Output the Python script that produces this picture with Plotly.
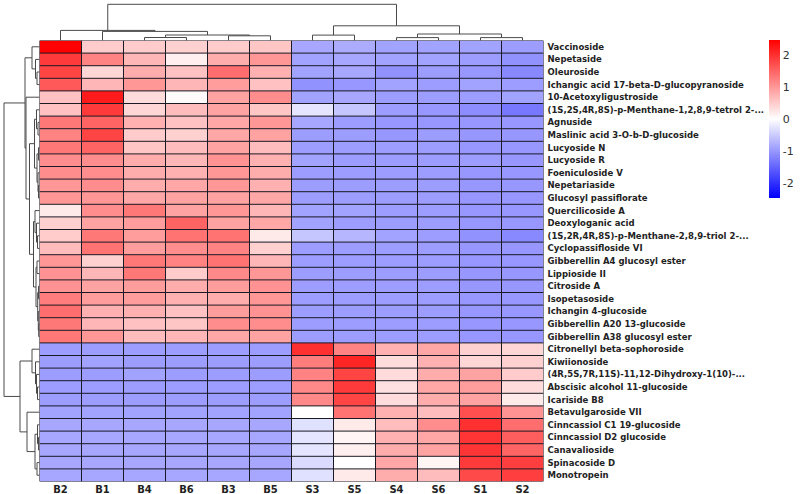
import plotly.graph_objects as go

samples = ["B2", "B1", "B4", "B6", "B3", "B5", "S3", "S5", "S4", "S6", "S1", "S2"]

compounds = [
    "Vaccinoside", "Nepetaside", "Oleuroside", "Ichangic acid 17-beta-D-glucopyranoside",
    "10-Acetoxyligustroside", "(1S,2S,4R,8S)-p-Menthane-1,2,8,9-tetrol 2-...", "Agnuside",
    "Maslinic acid 3-O-b-D-glucoside", "Lucyoside N", "Lucyoside R", "Foeniculoside V",
    "Nepetariaside", "Glucosyl passiflorate", "Quercilicoside A", "Deoxyloganic acid",
    "(1S,2R,4R,8S)-p-Menthane-2,8,9-triol 2-...", "Cyclopassifloside VI",
    "Gibberellin A4 glucosyl ester", "Lippioside II", "Citroside A", "Isopetasoside",
    "Ichangin 4-glucoside", "Gibberellin A20 13-glucoside", "Gibberellin A38 glucosyl ester",
    "Citronellyl beta-sophoroside", "Kiwiionoside", "(4R,5S,7R,11S)-11,12-Dihydroxy-1(10)-...",
    "Abscisic alcohol 11-glucoside", "Icariside B8", "Betavulgaroside VII",
    "Cinncassiol C1 19-glucoside", "Cinncassiol D2 glucoside", "Canavalioside",
    "Spinacoside D", "Monotropein",
]

# row-scaled values, one list per sample (rows in display order)
B2 = [2.45, 1.9, 1.8, 1.6, 0.6, 0.6, 1.3, 1.2, 1.3, 1.1, 1.1, 1.0, 1.0, 0.2, 0.45, 0.5, 0.65,
      1.0, 1.05, 1.05, 1.25, 1.4, 1.3, 1.3,
      -0.95, -0.95, -0.95, -0.95, -0.95, -0.9, -0.85, -0.85, -0.85, -0.85, -0.85]
B1 = [0.5, 1.2, 0.4, 0.7, 2.2, 1.9, 1.5, 1.8, 1.5, 1.1, 1.1, 1.1, 1.0, 1.1, 0.9, 1.3, 1.35,
      0.45, 0.7, 0.9, 0.95, 0.75, 0.7, 1.0,
      -0.95, -0.9, -0.95, -0.95, -0.95, -0.9, -0.85, -0.85, -0.85, -0.85, -0.85]
B4 = [0.5, 0.7, 0.8, 1.0, 0.35, 0.4, 0.75, 0.5, 0.55, 0.8, 0.8, 0.8, 0.85, 1.3, 0.95, 0.95, 0.95,
      1.3, 1.3, 0.95, 0.95, 0.75, 0.6, 0.65,
      -0.95, -0.95, -0.9, -0.95, -0.95, -0.9, -0.85, -0.85, -0.85, -0.85, -0.85]
B6 = [0.45, 0.15, 0.6, 0.7, 0.05, 0.65, 0.6, 0.45, 0.65, 0.7, 0.75, 0.85, 0.9, 0.9, 1.5, 1.35, 1.1,
      1.2, 0.5, 0.8, 0.75, 0.6, 0.55, 0.7,
      -0.95, -0.95, -0.95, -0.95, -0.95, -0.9, -0.85, -0.85, -0.85, -0.85, -0.85]
B3 = [0.5, 0.8, 1.4, 0.95, 0.9, 0.9, 0.85, 0.85, 0.9, 1.05, 1.0, 1.0, 0.9, 1.0, 0.9, 1.35, 1.2,
      1.35, 1.15, 0.95, 0.8, 0.95, 1.1, 0.85,
      -0.95, -0.95, -0.95, -0.95, -0.95, -0.9, -0.85, -0.85, -0.85, -0.85, -0.85]
B5 = [0.55, 1.0, 0.75, 0.6, 1.1, 0.55, 1.0, 0.9, 0.65, 0.75, 0.8, 0.75, 0.85, 0.7, 0.85, 0.2, 0.45,
      0.7, 1.0, 1.05, 1.0, 1.05, 1.1, 0.9,
      -0.95, -0.95, -0.95, -0.95, -0.95, -0.9, -0.85, -0.85, -0.85, -0.85, -0.85]
S3 = [-0.85, -0.9, -0.9, -1.05, -0.9, -0.25, -0.85, -0.95, -0.95, -0.9, -0.95, -0.95, -0.95, -0.9,
      -0.9, -0.55, -0.95, -0.95, -0.95, -0.95, -0.95, -0.95, -0.95, -0.95,
      2.0, 1.25, 1.2, 1.15, 1.15, 0.0, -0.3, -0.25, -0.25, -0.35, -0.3]
S5 = [-0.8, -0.85, -0.85, -1.0, -0.85, -0.55, -0.95, -0.95, -0.95, -0.95, -0.95, -0.95, -0.95, -0.9,
      -0.95, -0.7, -0.95, -0.95, -0.95, -0.95, -0.95, -0.95, -0.95, -0.95,
      1.2, 2.1, 1.8, 1.9, 1.8, 1.35, 0.2, 0.1, 0.15, 0.0, 0.2]
S4 = [-0.9, -0.9, -1.05, -0.9, -0.95, -0.95, -1.0, -1.0, -0.95, -0.95, -0.95, -0.95, -0.95, -0.95,
      -0.95, -0.9, -0.95, -0.95, -0.95, -0.95, -0.95, -0.95, -0.95, -0.95,
      0.75, 0.35, 0.35, 0.3, 0.35, 0.75, 0.65, 0.75, 0.8, 0.85, 0.8]
S6 = [-0.9, -0.9, -0.95, -0.95, -0.95, -1.0, -1.0, -0.95, -0.95, -0.95, -0.95, -0.95, -0.95, -0.95,
      -0.95, -0.95, -0.95, -0.95, -0.95, -0.95, -0.95, -0.95, -0.95, -0.95,
      0.85, 0.75, 0.8, 0.85, 0.8, 0.65, 1.1, 0.85, 0.9, 0.1, 0.65]
S1 = [-0.9, -0.95, -1.0, -0.9, -0.95, -1.1, -1.0, -1.0, -1.0, -0.95, -1.0, -1.0, -1.0, -1.0,
      -1.0, -1.05, -1.0, -1.0, -1.0, -1.0, -1.0, -1.0, -1.0, -1.0,
      0.45, 0.4, 0.9, 0.95, 0.9, 1.7, 2.0, 1.95, 1.95, 1.9, 1.75]
S2 = [-0.95, -1.05, -1.15, -0.95, -0.9, -1.3, -1.0, -1.0, -1.0, -1.0, -1.0, -1.0, -1.0, -1.0,
      -1.0, -1.15, -1.0, -1.0, -1.0, -1.0, -1.0, -1.0, -1.0, -1.0,
      0.4, 0.45, 0.5, 0.35, 0.2, 1.05, 1.4, 1.55, 1.5, 1.85, 1.85]

colorbar_ticks = [-2, -1, 0, 1, 2]
colorbar_labels = ["-2", "-1", "0", "1", "2"]

# cluster trees: [left, right, merge height]; leaves = display index
col_tree = [[0, [1, [[2, 3, 3.0], [4, 5, 4.7], 5.5], 9.1], 10.1],
            [[6, 7, 5.4], [[8, 9, 2.9], [10, 11, 2.9], 6.5], 14.7], 36.2]

row_top_a = [0, [1, [2, 3, 2.5], 4.0], 7.5]
row_y1 = [[5, [6, 7, 1.5], 3.0], [[8, 9, 1.0], [10, [11, 12, 1.0], 1.5], 2.5], 5.0]
row_y2 = [[13, [14, [15, 16, 2.0], 3.0], 4.5],
          [[17, 18, 2.5], [[19, 20, 1.0], [21, [22, 23, 0.8], 1.2], 1.8], 3.5], 6.0]
row_top = [row_top_a, [4, [row_y1, row_y2, 10.0], 13.5], 14.5]
row_bot_u = [24, [25, [26, [27, 28, 2.0], 3.0], 4.0], 7.5]
row_bot_l = [29, [[30, [31, 32, 1.0], 2.0], [33, 34, 2.5], 4.5], 12.5]
row_tree = [row_top, [row_bot_u, row_bot_l, 19.5], 35.5]

cols = [B2, B1, B4, B6, B3, B5, S3, S5, S4, S6, S1, S2]
z = [list(r) for r in zip(*cols)]
n_rows, n_cols = len(compounds), len(samples)


def dendro(node):
    if isinstance(node, int):
        return float(node), 0.0, [], []
    left, right, h = node
    pl, hl, a1, b1 = dendro(left)
    pr, hr, a2, b2 = dendro(right)
    pos = a1 + a2 + [pl, pl, pr, pr, None]
    hts = b1 + b2 + [hl, h, h, hr, None]
    return (pl + pr) / 2, h, pos, hts


W, H = 800, 494
hx0, hx1 = 39.5 / W, 543.5 / W
hy0, hy1 = 1 - 481.5 / H, 1 - 40.5 / H

zmax = 2.46
fig = go.Figure()
fig.add_trace(go.Heatmap(
    z=z, x=list(range(n_cols)), y=list(range(n_rows)),
    colorscale=[[0, "#0000ff"], [0.5, "#ffffff"], [1, "#ff0000"]],
    zmin=-zmax, zmax=zmax,
    colorbar=dict(thickness=11, len=158 / H, lenmode="fraction", x=769 / W, xanchor="left",
                  xpad=0, ypad=0, y=1 - 119 / H, yanchor="middle", outlinewidth=0,
                  tickvals=colorbar_ticks, ticktext=colorbar_labels, ticks="",
                  tickfont=dict(family="DejaVu Sans", size=11, color="#333333")),
    hoverinfo="skip", xaxis="x", yaxis="y",
))

_, _, cpos, chts = dendro(col_tree)
fig.add_trace(go.Scatter(x=cpos, y=chts, mode="lines", line=dict(color="#4a4a4a", width=1),
                         xaxis="x2", yaxis="y2", hoverinfo="skip", showlegend=False))
_, _, rpos, rhts = dendro(row_tree)
fig.add_trace(go.Scatter(x=rhts, y=rpos, mode="lines", line=dict(color="#4a4a4a", width=1),
                         xaxis="x3", yaxis="y3", hoverinfo="skip", showlegend=False))

shapes = []
for i in range(n_cols + 1):
    shapes.append(dict(type="line", xref="x", yref="y", x0=i - 0.5, x1=i - 0.5, y0=-0.5,
                       y1=n_rows - 0.5, line=dict(color="#1a1a24", width=1), layer="above"))
for j in range(n_rows + 1):
    shapes.append(dict(type="line", xref="x", yref="y", x0=-0.5, x1=n_cols - 0.5, y0=j - 0.5,
                       y1=j - 0.5, line=dict(color="#1a1a24", width=1), layer="above"))

hidden = dict(visible=False, automargin=False, showgrid=False, zeroline=False)
fig.update_layout(
    template="none",
    width=W, height=H, margin=dict(l=0, r=0, t=0, b=0, pad=0, autoexpand=False),
    paper_bgcolor="white", plot_bgcolor="white", showlegend=False, shapes=shapes,
    xaxis=dict(domain=[hx0, hx1], range=[-0.5, n_cols - 0.5], tickvals=list(range(n_cols)),
               ticktext=samples, ticks="", showgrid=False, zeroline=False, showline=False,
               automargin=False,
               tickfont=dict(family="DejaVu Sans", size=10, color="#222222", weight="bold")),
    yaxis=dict(domain=[hy0, hy1], range=[n_rows - 0.5, -0.5], side="right",
               tickvals=list(range(n_rows)), ticktext=compounds, ticks="", showgrid=False,
               zeroline=False, showline=False, automargin=False, ticklabelstandoff=3,
               tickfont=dict(family="DejaVu Sans", size=8.5, color="#222222", weight="bold")),
    xaxis2=dict(domain=[hx0, hx1], range=[-0.5, n_cols - 0.5], anchor="y2", **hidden),
    yaxis2=dict(domain=[hy1, 1.0], range=[0, 40.5], anchor="x2", **hidden),
    xaxis3=dict(domain=[0, hx0], range=[39.5, 0], anchor="y3", **hidden),
    yaxis3=dict(domain=[hy0, hy1], range=[n_rows - 0.5, -0.5], anchor="x3", **hidden),
)

fig.write_html("out.html", config={"displayModeBar": False},
               post_script="document.body.style.margin='0';document.body.style.overflow='hidden';")
